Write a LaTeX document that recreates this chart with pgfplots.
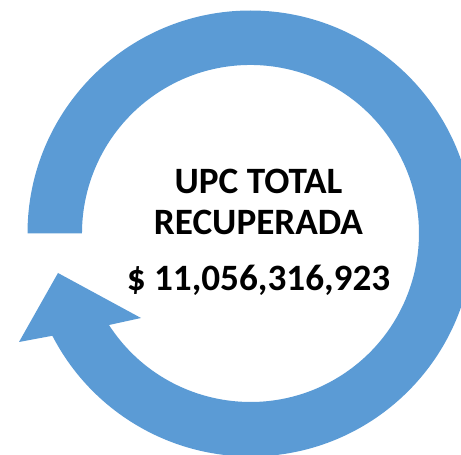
\documentclass[border=0pt]{standalone}
\usepackage{fontspec}
\setmainfont{Carlito}
\usepackage{pgfplots}
\pgfplotsset{compat=1.18}
\definecolor{ringblue}{HTML}{5B9BD5}

\begin{document}
\begin{tikzpicture}
  \begin{axis}[
    width=345.75bp, height=341.25bp,
    scale only axis,
    xmin=0, xmax=461, ymin=0, ymax=455,
    hide axis,
    clip=true,
    disabledatascaling,
    ]
    % invisible frame so the page keeps the full size
    \addplot[draw=none, forget plot] coordinates {(0,0) (461,455)};
    % ring arrow: centre (250.5,221.5), outer radius 223, inner radius 168.5
    \fill[ringblue] (axis cs:27.5,221.5)
      arc[start angle=180, end angle=-152.7, radius=223]
      -- (axis cs:19,113) -- (axis cs:58,182) -- (axis cs:141,137)
      -- (axis cs:109,130)
      arc[start angle=-147.1, end angle=180, radius=168.5]
      -- cycle;
    \node[anchor=base, font=\fontsize{28}{31}\selectfont\bfseries] at (axis cs:258.5,261) {UPC TOTAL};
    \node[anchor=base, font=\fontsize{28}{31}\selectfont\bfseries] at (axis cs:258.5,220) {RECUPERADA};
    \node[anchor=base, font=\fontsize{28}{31}\selectfont\bfseries] at (axis cs:258.5,164) {\$ 11,056,316,923};
  \end{axis}
  \path[use as bounding box] (0,0) rectangle (345.75bp,341.25bp);
\end{tikzpicture}
\end{document}
